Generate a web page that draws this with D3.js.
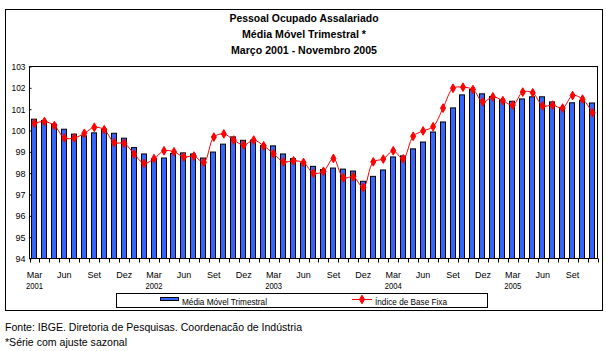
<!DOCTYPE html>
<html>
<head>
<meta charset="utf-8">
<script src="https://cdn.jsdelivr.net/npm/d3@7"></script>
<style>
  body { margin: 0; background: #fff; }
  svg { display: block; font-family: "Liberation Sans", Arial, sans-serif; }
</style>
</head>
<body>
<div id="chart"></div>
<script>
// periodos mensais, Mar/2001 - Nov/2005
const categories = [
  "2001-03","2001-04","2001-05","2001-06","2001-07","2001-08","2001-09","2001-10","2001-11","2001-12",
  "2002-01","2002-02","2002-03","2002-04","2002-05","2002-06","2002-07","2002-08","2002-09","2002-10","2002-11","2002-12",
  "2003-01","2003-02","2003-03","2003-04","2003-05","2003-06","2003-07","2003-08","2003-09","2003-10","2003-11","2003-12",
  "2004-01","2004-02","2004-03","2004-04","2004-05","2004-06","2004-07","2004-08","2004-09","2004-10","2004-11","2004-12",
  "2005-01","2005-02","2005-03","2005-04","2005-05","2005-06","2005-07","2005-08","2005-09","2005-10","2005-11"
];

const mediaMovel = [
  100.53, 100.47, 100.30, 100.06, 99.83, 99.75, 99.89, 100.07, 99.87, 99.64,
  99.20, 98.90, 98.68, 98.71, 98.92, 98.95, 98.90, 98.71, 98.99, 99.36, 99.70, 99.54,
  99.55, 99.30, 99.28, 98.90, 98.68, 98.48, 98.32, 98.17, 98.24, 98.19, 98.10, 97.62,
  97.85, 98.15, 98.76, 98.81, 99.14, 99.46, 99.93, 100.40, 101.06, 101.67, 101.92, 101.72,
  101.59, 101.44, 101.37, 101.48, 101.58, 101.58, 101.34, 101.06, 101.30, 101.40, 101.29
];

const baseFixa = [
  100.34, 100.42, 100.23, 99.65, 99.65, 99.87, 100.15, 100.04, 99.43, 99.40,
  98.90, 98.46, 98.68, 99.05, 99.00, 98.76, 98.80, 98.51, 99.69, 99.84, 99.55, 99.32,
  99.55, 99.28, 98.91, 98.53, 98.58, 98.50, 98.00, 98.09, 98.69, 97.78, 97.83, 97.33,
  98.53, 98.66, 99.05, 98.67, 99.73, 99.98, 100.18, 101.05, 101.98, 102.03, 101.92, 101.34,
  101.58, 101.40, 101.19, 101.80, 101.77, 101.15, 101.19, 101.05, 101.64, 101.47, 100.83
];

const yTicks = [94, 95, 96, 97, 98, 99, 100, 101, 102, 103];

// rotulos do eixo x: mes a cada trimestre, ano sob o Mar
const monthLabels = [
  ["2001-03","Mar"],["2001-06","Jun"],["2001-09","Set"],["2001-12","Dez"],
  ["2002-03","Mar"],["2002-06","Jun"],["2002-09","Set"],["2002-12","Dez"],
  ["2003-03","Mar"],["2003-06","Jun"],["2003-09","Set"],["2003-12","Dez"],
  ["2004-03","Mar"],["2004-06","Jun"],["2004-09","Set"],["2004-12","Dez"],
  ["2005-03","Mar"],["2005-06","Jun"],["2005-09","Set"]
];
const yearLabels = [
  ["2001-03","2001"],["2002-03","2002"],["2003-03","2003"],["2004-03","2004"],["2005-03","2005"]
];

const W = 606, H = 351;
const svg = d3.select("#chart").append("svg")
  .attr("width", W).attr("height", H);

// moldura externa
svg.append("rect")
  .attr("x", 5.5).attr("y", 9.5)
  .attr("width", 597).attr("height", 301)
  .attr("fill", "#fff").attr("stroke", "#000").attr("stroke-width", 1);

// titulo
const titles = [
  ["Pessoal Ocupado Assalariado", 22, 149],
  ["Média Móvel Trimestral  *", 38, 124],
  ["Março 2001 - Novembro 2005", 54, 146]
];
titles.forEach(([t, ty, len]) => {
  svg.append("text")
    .attr("x", 304).attr("y", ty)
    .attr("text-anchor", "middle")
    .attr("textLength", len).attr("lengthAdjust", "spacingAndGlyphs")
    .style("font-size", "11px").style("font-weight", "bold")
    .text(t);
});

const plotLeft = 29.5, plotRight = 597.5, plotTop = 66.5, plotBottom = 258.5;

let x = d3.scaleBand()
  .domain(categories)
  .range([plotLeft, plotRight]);

let y = d3.scaleLinear()
  .domain([94, 103])
  .range([plotBottom, plotTop]);

// borda da area de plotagem
svg.append("rect")
  .attr("x", plotLeft).attr("y", plotTop)
  .attr("width", plotRight - plotLeft).attr("height", plotBottom - plotTop)
  .attr("fill", "none").attr("stroke", "#000");

// barras
const barW = 5;
svg.selectAll(".bar")
  .data(categories)
  .enter()
  .append("rect")
  .attr("class", "bar")
  .attr("x", d => Math.round(x(d) + x.bandwidth() / 2 - barW / 2) - 0.5)
  .attr("y", (d, i) => y(mediaMovel[i]))
  .attr("width", barW)
  .attr("height", (d, i) => y(94) - y(mediaMovel[i]))
  .attr("fill", "#3366ff")
  .attr("stroke", "#000")
  .attr("stroke-width", 1);

// eixo y
const yAxis = svg.append("g")
  .attr("transform", `translate(${plotLeft},0)`)
  .call(d3.axisLeft(y).tickValues(yTicks).tickSize(2).tickPadding(2).tickFormat(d3.format("d")));
yAxis.select(".domain").remove();
yAxis.selectAll("line").attr("stroke", "#000").attr("x2", 2);
yAxis.selectAll("text")
  .style("font-size", "9px")
  .style("font-family", "Liberation Sans, Arial, sans-serif")
  .attr("textLength", d => d >= 100 ? 14 : 10)
  .attr("lengthAdjust", "spacingAndGlyphs")
  .attr("fill", "#000");

// marcas do eixo x nas fronteiras das categorias
svg.selectAll(".xtick")
  .data(categories.concat(["end"]))
  .enter()
  .append("line")
  .attr("x1", (d, i) => Math.round(plotLeft + i * x.step()) + 0.5)
  .attr("x2", (d, i) => Math.round(plotLeft + i * x.step()) + 0.5)
  .attr("y1", plotBottom)
  .attr("y2", plotBottom + 4)
  .attr("stroke", "#000");

svg.selectAll(".mlabel")
  .data(monthLabels)
  .enter()
  .append("text")
  .attr("x", d => x(d[0]) + x.bandwidth() / 2)
  .attr("y", 278)
  .attr("text-anchor", "middle")
  .style("font-size", "9px")
  .text(d => d[1]);

svg.selectAll(".ylabel")
  .data(yearLabels)
  .enter()
  .append("text")
  .attr("x", d => x(d[0]) + x.bandwidth() / 2)
  .attr("y", 289)
  .attr("text-anchor", "middle")
  .attr("textLength", 17).attr("lengthAdjust", "spacingAndGlyphs")
  .style("font-size", "9px")
  .text(d => d[1]);

// linha suavizada
const line = d3.line()
  .x((d, i) => x(categories[i]) + x.bandwidth() / 2)
  .y(d => y(d))
  .curve(d3.curveCatmullRom.alpha(0.5));

svg.append("path")
  .datum(baseFixa)
  .attr("d", line)
  .attr("fill", "none")
  .attr("stroke", "#ff0000")
  .attr("stroke-width", 1);

const marker = d3.symbol().type(d3.symbolDiamond).size(22);
svg.selectAll(".pt")
  .data(baseFixa)
  .enter()
  .append("path")
  .attr("class", "pt")
  .attr("transform", (d, i) => `translate(${x(categories[i]) + x.bandwidth() / 2},${y(d)})`)
  .attr("d", marker)
  .attr("fill", "#ff0000")
  .attr("stroke", "#ff0000")
  .attr("stroke-width", 1);

// legenda
const legend = svg.append("g");
legend.append("rect")
  .attr("x", 116.5).attr("y", 293.5)
  .attr("width", 371).attr("height", 14)
  .attr("fill", "#fff").attr("stroke", "#000");
legend.append("rect")
  .attr("x", 160.5).attr("y", 297.5)
  .attr("width", 18).attr("height", 3)
  .attr("fill", "#3366ff").attr("stroke", "#000");
legend.append("text")
  .attr("x", 182).attr("y", 304.5)
  .attr("textLength", 85).attr("lengthAdjust", "spacingAndGlyphs")
  .style("font-size", "9px")
  .text("Média Móvel Trimestral");
legend.append("line")
  .attr("x1", 352).attr("x2", 372)
  .attr("y1", 299.5).attr("y2", 299.5)
  .attr("stroke", "#ff0000");
legend.append("path")
  .attr("transform", "translate(362,299.5)")
  .attr("d", marker)
  .attr("fill", "#ff0000").attr("stroke", "#ff0000").attr("stroke-width", 1);
legend.append("text")
  .attr("x", 375).attr("y", 304.5)
  .attr("textLength", 72).attr("lengthAdjust", "spacingAndGlyphs")
  .style("font-size", "9px")
  .text("Índice de Base Fixa");

// rodape
svg.append("text")
  .attr("x", 5).attr("y", 331)
  .attr("textLength", 297).attr("lengthAdjust", "spacingAndGlyphs")
  .style("font-size", "11px")
  .text("Fonte: IBGE. Diretoria de Pesquisas. Coordenacão de Indústria");
svg.append("text")
  .attr("x", 5).attr("y", 346)
  .attr("textLength", 122).attr("lengthAdjust", "spacingAndGlyphs")
  .style("font-size", "11px")
  .text("*Série com ajuste sazonal");
</script>
</body>
</html>
